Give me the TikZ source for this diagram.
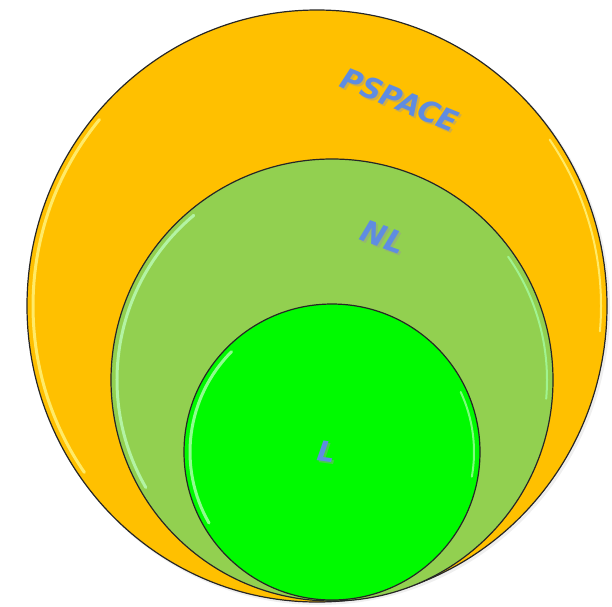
\documentclass[tikz,border=0pt]{standalone}
\usepackage{fontspec}
\setsansfont{DejaVu Sans}
\definecolor{psorange}{RGB}{255,192,0}
\definecolor{nlgreen}{RGB}{146,208,80}
\definecolor{lgreen}{RGB}{0,250,0}
\definecolor{lblue}{RGB}{95,140,225}
\tikzset{
  setcircle/.style={draw=black!85, line width=1.2pt},
  shine/.style={line width=3pt, line cap=round, opacity=0.75},
  setlabel/.style={text=lblue, inner sep=0pt},
  labshadow/.style={text=black!40, inner sep=0pt, opacity=0.45}
}
\begin{document}
\begin{tikzpicture}[x=1pt,y=-1pt]
\useasboundingbox (0,0) rectangle (612,606);
% outer PSPACE
\fill[black!12, opacity=0.5] (319,308) ellipse [x radius=291, y radius=297];
\filldraw[setcircle, fill=psorange] (317,306) ellipse [x radius=290, y radius=296];
\draw[shine, yellow!45!white] (317,306) ++(145:284 and 290) arc [start angle=145, end angle=220, x radius=284, y radius=290];
\draw[shine, yellow!45!white, line width=2pt] (317,306) ++(-35:284 and 290) arc [start angle=-35, end angle=5, x radius=284, y radius=290];
% NL
\filldraw[setcircle, fill=nlgreen] (332,380) circle [radius=221];
\draw[shine, green!25!white] (332,380) ++(150:215) arc [start angle=150, end angle=230, radius=215];
\draw[shine, green!35!white, line width=2pt] (332,380) ++(-35:215) arc [start angle=-35, end angle=5, radius=215];
% L
\filldraw[setcircle, fill=lgreen] (332,452) circle [radius=148];
\draw[shine, green!25!white] (332,452) ++(150:142) arc [start angle=150, end angle=225, radius=142];
\draw[shine, green!35!white, line width=2pt] (332,452) ++(-25:142) arc [start angle=-25, end angle=10, radius=142];
% labels
\node[labshadow, rotate=-22, font=\fontsize{29}{29}\selectfont\sffamily\bfseries\itshape] at (402,102) {PSPACE};
\node[setlabel, rotate=-22, font=\fontsize{29}{29}\selectfont\sffamily\bfseries\itshape] (ps) at (400,100) {PSPACE};
\node[labshadow, rotate=-20, font=\fontsize{30}{30}\selectfont\sffamily\bfseries\itshape] at (385,239) {NL};
\node[setlabel, rotate=-20, font=\fontsize{30}{30}\selectfont\sffamily\bfseries\itshape] (nl) at (383,237) {NL};
\node[labshadow, rotate=-8, font=\fontsize{28}{28}\selectfont\sffamily\bfseries\itshape] at (329,454) {L};
\node[setlabel, rotate=-8, font=\fontsize{28}{28}\selectfont\sffamily\bfseries\itshape] (l) at (327,452) {L};
\end{tikzpicture}
\end{document}
